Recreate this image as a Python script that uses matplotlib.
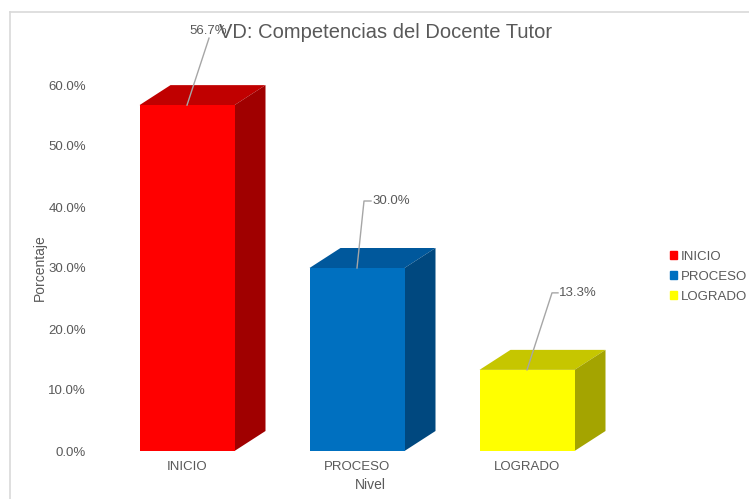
import matplotlib
matplotlib.use("Agg")
import matplotlib.pyplot as plt
from matplotlib.patches import Polygon
from matplotlib.lines import Line2D
from matplotlib.patches import Rectangle

categories = ["INICIO", "PROCESO", "LOGRADO"]
values = [0.567, 0.300, 0.133]
labels = ["56.7%", "30.0%", "13.3%"]
front_colors = ["#FF0000", "#0070C0", "#FFFF00"]
top_colors = ["#C00000", "#00589C", "#C6C600"]
side_colors = ["#A00000", "#00487F", "#A4A400"]
yticks = [0.0, 0.1, 0.2, 0.3, 0.4, 0.5, 0.6]

plt.rcParams['font.family'] = ['Liberation Sans', 'DejaVu Sans']
TXT = "#595959"

W, H = 749, 499
fig = plt.figure(figsize=(W / 100, H / 100), dpi=100)

# border lines (figure pixel coords)
fig.add_artist(Line2D([10 / W, 10 / W], [0, 1 - 12 / H], color="#D9D9D9", lw=1.2))
fig.add_artist(Line2D([10 / W, 1], [1 - 12 / H, 1 - 12 / H], color="#D9D9D9", lw=1.2))

# axes placement in pixels
ax_l, ax_r = 100, 640
ax_b, ax_t = 451, 20
ax = fig.add_axes([ax_l / W, 1 - ax_b / H, (ax_r - ax_l) / W, (ax_b - ax_t) / H])
px_per_x = 170.0
px_per_y = 610.0  # pixels per 1.0 (100%)
x0_px = 187
ax.set_xlim(-(x0_px - ax_l) / px_per_x, 2 + (ax_r - (x0_px + 2 * px_per_x)) / px_per_x)
ax.set_ylim(0, (ax_b - ax_t) / px_per_y)

width = 95 / px_per_x
dx = 31 / px_per_x
dy = 20 / px_per_y

xs = list(range(len(categories)))
ax.bar(xs, values, width=width, color=front_colors, zorder=3)
for x, v, tc, sc in zip(xs, values, top_colors, side_colors):
    l, r = x - width / 2, x + width / 2
    ax.add_patch(Polygon([(l, v), (r, v), (r + dx, v + dy), (l + dx, v + dy)],
                         closed=True, facecolor=tc, edgecolor="none", zorder=2))
    ax.add_patch(Polygon([(r, 0), (r + dx, dy), (r + dx, v + dy), (r, v)],
                         closed=True, facecolor=sc, edgecolor="none", zorder=2))


def to_data(px, py):
    return ((px - x0_px) / px_per_x, (ax_b - py) / px_per_y)


# data labels with leader lines (offsets in pixels)
offsets = [(22, 67, 0), (7, 67, 7), (25, 77, 6)]
for x, v, lab, (ox, oy, hz) in zip(xs, values, labels, offsets):
    xp = x0_px + x * px_per_x
    yp = ax_b - v * px_per_y
    pts = [to_data(xp, yp), to_data(xp + ox, yp - oy), to_data(xp + ox + hz, yp - oy)]
    ax.plot([p[0] for p in pts], [p[1] for p in pts], color="#A6A6A6", lw=1.0,
            zorder=5, clip_on=False)
    if hz == 0:
        tx, ty = to_data(xp + 2, yp - oy - 7)
    else:
        tx, ty = to_data(xp + ox + hz + 1, yp - oy)
    ax.text(tx, ty, lab, ha="left", va="center", fontsize=9.5, color=TXT, zorder=6)

ax.set_yticks(yticks)
ax.set_yticklabels([f"{t * 100:.1f}%" for t in yticks], fontsize=9.5, color=TXT)
ax.set_xticks(xs)
ax.set_xticklabels(categories, fontsize=9.5, color=TXT)
ax.tick_params(length=0, pad=10)
ax.tick_params(axis="x", pad=7)
for s in ax.spines.values():
    s.set_visible(False)
ax.set_xlabel("Nivel", fontsize=10, color=TXT, labelpad=4)
ax.set_ylabel("Porcentaje", fontsize=10, color=TXT)
ax.yaxis.set_label_coords((47 - ax_l) / (ax_r - ax_l), (ax_b - 268) / (ax_b - ax_t))

fig.text(386 / W, 1 - 33 / H, "VD: Competencias del Docente Tutor", ha="center",
         va="center", fontsize=14.5, color=TXT)

# legend
handles = [Rectangle((0, 0), 1, 1, color=c) for c in front_colors]
fig.legend(handles, categories, loc="center left", bbox_to_anchor=(670 / W, 1 - 277 / H),
           frameon=False, fontsize=9.5, handlelength=0.55, handleheight=0.55,
           handletextpad=0.25, labelspacing=0.6, labelcolor=TXT, borderaxespad=0,
           borderpad=0)

fig.savefig("out.png", dpi=100)
